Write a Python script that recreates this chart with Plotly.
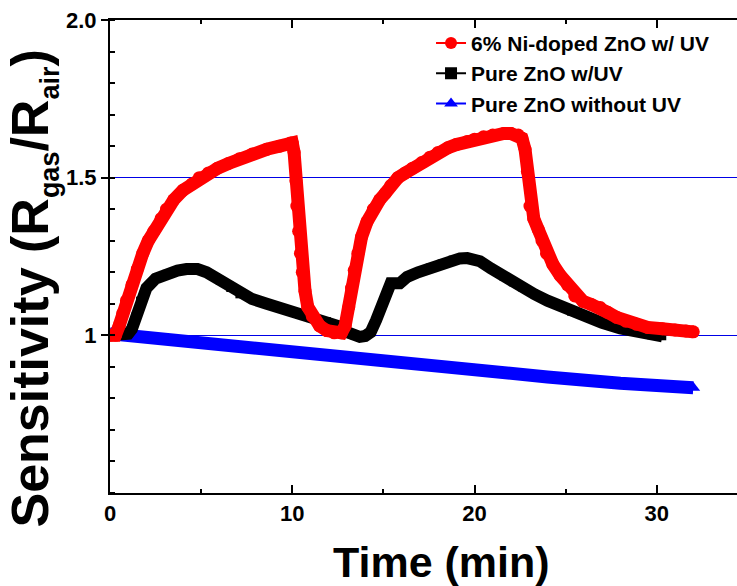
import plotly.graph_objects as go

# ---- measured sensitivity (R_gas / R_air) versus time ----
ni_zno_uv_time = [0.0, 0.3, 0.5, 0.7, 0.9, 1.2, 1.5, 1.8, 2.1, 2.4, 2.8, 3.1, 3.5, 4.0, 4.5,
                  4.9, 5.4, 5.9, 6.5, 7.1, 7.8, 8.6, 9.3, 9.9, 10.0, 10.1, 10.2, 10.25, 10.35,
                  10.45, 10.55, 10.7, 10.85, 11.1, 11.5, 11.9, 12.3, 12.7, 12.9, 13.1, 13.25,
                  13.4, 13.6, 13.8, 14.1, 14.45, 14.8, 15.1, 15.4, 15.8, 16.2, 16.6, 17.1,
                  17.55, 18.0, 18.55, 19.0, 19.6, 20.0, 20.5, 21.0, 21.6, 22.0, 22.4, 22.6,
                  22.77, 22.9, 23.04, 23.25, 23.5, 23.7, 23.95, 24.3, 24.7, 25.1, 25.5,
                  25.95, 26.4, 26.9, 27.3, 27.8, 28.3, 28.9, 29.5, 30.3, 31.0, 31.6, 32.0]
ni_zno_uv_sens = [1.00, 1.00, 1.03, 1.07, 1.11, 1.16, 1.21, 1.26, 1.30, 1.33, 1.37, 1.40, 1.43,
                  1.46, 1.48, 1.50, 1.515, 1.53, 1.545, 1.56, 1.575, 1.59, 1.60, 1.61, 1.61,
                  1.58, 1.49, 1.41, 1.33, 1.26, 1.20, 1.14, 1.09, 1.06, 1.03, 1.015, 1.008,
                  1.008, 1.03, 1.09, 1.15, 1.206, 1.26, 1.312, 1.36, 1.40, 1.43, 1.45, 1.475,
                  1.50, 1.515, 1.53, 1.548, 1.565, 1.58, 1.595, 1.605, 1.615, 1.622, 1.63,
                  1.635, 1.64, 1.64, 1.635, 1.625, 1.59, 1.52, 1.41, 1.37, 1.335, 1.30, 1.26,
                  1.225, 1.19, 1.16, 1.125, 1.108, 1.098, 1.088, 1.073, 1.057, 1.045, 1.035,
                  1.025, 1.021, 1.017, 1.014, 1.011]

zno_uv_time = [0.0, 0.6, 1.0, 1.2, 1.4, 1.65, 2.0, 2.5, 3.1, 3.7, 4.2, 4.8, 5.3, 6.0, 6.6,
               7.1, 7.8, 8.6, 9.5, 10.4, 11.2, 11.9, 12.5, 13.0, 13.4, 13.7, 14.0, 14.3,
               14.6, 15.0, 15.4, 15.9, 16.3, 16.9, 17.55, 18.2, 18.8, 19.2, 19.6, 20.3, 20.9,
               21.6, 22.1, 22.6, 23.3, 24.0, 24.6, 25.3, 26.2, 27.0, 28.0, 29.0, 29.7, 30.3]
zno_uv_sens = [1.00, 1.00, 1.005, 1.02, 1.06, 1.11, 1.15, 1.18, 1.195, 1.205, 1.21, 1.21,
               1.20, 1.175, 1.15, 1.13, 1.115, 1.10, 1.085, 1.07, 1.058, 1.045, 1.03, 1.01,
               1.0, 0.995, 0.998, 1.01, 1.048, 1.11, 1.165, 1.165, 1.185, 1.20, 1.215, 1.228,
               1.24, 1.244, 1.245, 1.235, 1.212, 1.185, 1.168, 1.152, 1.13, 1.11, 1.095,
               1.075, 1.058, 1.04, 1.022, 1.008, 1.0, 0.997]

zno_dark_time = [0.0, 4.0, 8.0, 12.0, 16.0, 20.0, 24.0, 28.0, 32.0]
zno_dark_sens = [1.005, 0.981, 0.958, 0.935, 0.913, 0.891, 0.868, 0.848, 0.834]

x_ticks = [0, 10, 20, 30]
y_ticks = [1.0, 1.5, 2.0]
y_tick_text = ["1", "1.5", "2.0"]

FONT = "Liberation Sans, Arial, Helvetica, sans-serif"
RED, BLACK, BLUE = "#ff0000", "#000000", "#0000ff"

fig = go.Figure()

# thick data curves (dense markers merge into a solid band)
fig.add_trace(go.Scatter(x=zno_dark_time, y=zno_dark_sens, mode="lines+markers",
                         line=dict(color=BLUE, width=13),
                         marker=dict(symbol="triangle-up", size=12, color=BLUE),
                         showlegend=False))
fig.add_trace(go.Scatter(x=zno_uv_time, y=zno_uv_sens, mode="lines+markers",
                         line=dict(color=BLACK, width=12),
                         marker=dict(symbol="square", size=8, color=BLACK),
                         showlegend=False))
fig.add_trace(go.Scatter(x=ni_zno_uv_time, y=ni_zno_uv_sens, mode="lines+markers",
                         line=dict(color=RED, width=13),
                         marker=dict(symbol="circle", size=13, color=RED),
                         showlegend=False))

# legend entries: thin line with one symbol
legend_items = [("6% Ni-doped ZnO w/ UV", RED, "circle"),
                ("Pure ZnO w/UV", BLACK, "square"),
                ("Pure ZnO without UV", BLUE, "triangle-up")]
for name, col, sym in legend_items:
    fig.add_trace(go.Scatter(x=[None], y=[None], mode="lines+markers", name=name,
                             line=dict(color=col, width=2),
                             marker=dict(symbol=sym, size=12, color=col)))

sub = '<sub><span style="font-size:27px">{}</span></sub>'
y_title = "Sensitivity (R" + sub.format("gas") + "/R" + sub.format("air") + ")"

fig.update_layout(
    width=737, height=586,
    margin=dict(l=110, r=0, t=20, b=93),
    paper_bgcolor="white", plot_bgcolor="white",
    font=dict(family=FONT, color="black"),
    showlegend=True,
    legend=dict(x=0.512, y=0.994, xanchor="left", yanchor="top",
                bgcolor="rgba(0,0,0,0)", borderwidth=0,
                font=dict(family=FONT, size=21, weight="bold", color="black"),
                tracegroupgap=0),
    xaxis=dict(range=[0, 34.4], showline=True, linecolor="black", linewidth=2,
               mirror="ticks", ticks="inside", ticklen=8, tickwidth=2, tickcolor="black",
               tickvals=x_ticks, showgrid=False, zeroline=False,
               tickfont=dict(family=FONT, size=22, weight="bold"),
               minor=dict(dtick=5, tick0=0, ticks="inside", ticklen=4, tickwidth=2,
                          tickcolor="black", showgrid=False)),
    yaxis=dict(range=[0.5, 2.0], showline=True, linecolor="black", linewidth=2,
               ticks="outside", ticklen=7, tickwidth=2, tickcolor="black",
               tickvals=y_ticks, ticktext=y_tick_text,
               showgrid=True, gridcolor="#0000e6", gridwidth=1, zeroline=False,
               tickfont=dict(family=FONT, size=22, weight="bold"),
               minor=dict(dtick=0.1, tick0=0.5, ticks="inside", ticklen=5, tickwidth=2,
                          tickcolor="black", showgrid=False)),
    annotations=[
        dict(text="Time (min)", xref="paper", yref="paper", x=0.528, y=-0.146,
             xanchor="center", yanchor="middle", showarrow=False,
             font=dict(family=FONT, size=43, weight="bold", color="black")),
        dict(text=y_title, xref="paper",
             yref="paper", x=-0.123, y=0.432, xanchor="center", yanchor="middle",
             textangle=-90, showarrow=False,
             font=dict(family=FONT, size=52, weight="bold", color="black")),
    ],
)

fig.write_html("out.html")
